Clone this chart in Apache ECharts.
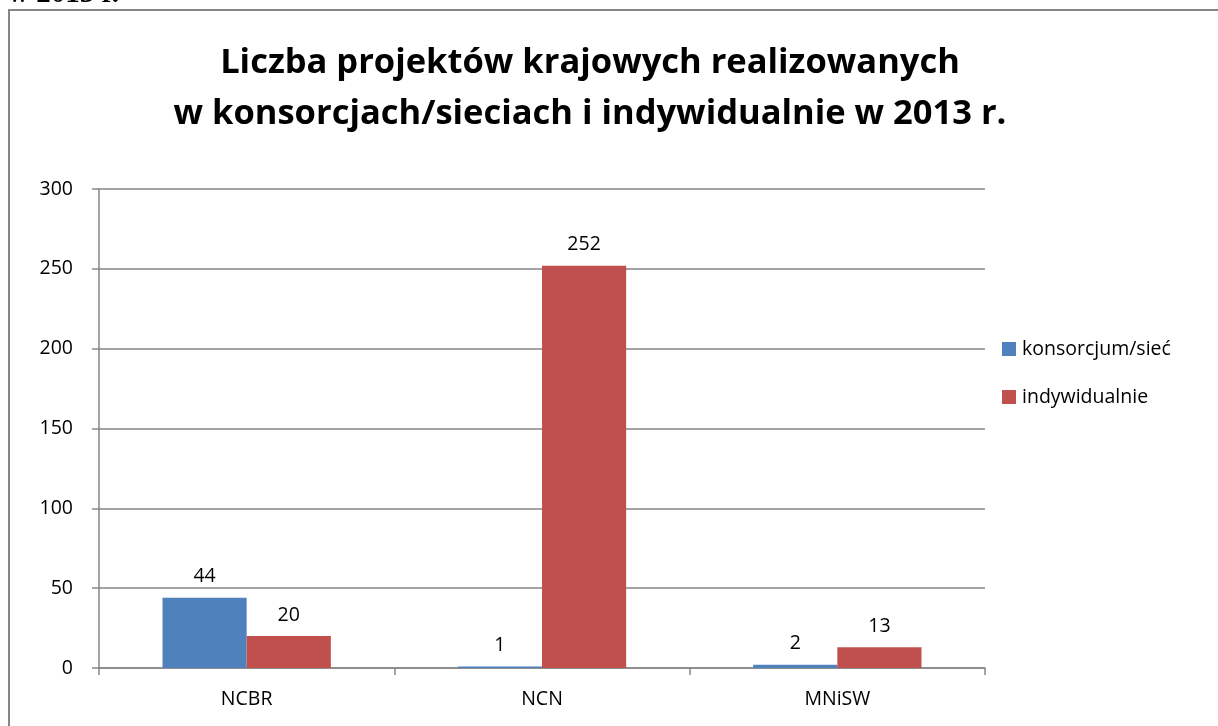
<!DOCTYPE html>
<html lang="pl">
<head>
    <meta charset="utf-8">
    <title>Liczba projektów krajowych</title>
    <script src="https://cdn.jsdelivr.net/npm/echarts@6/dist/echarts.min.js"></script>
    <style>
        html, body { margin: 0; padding: 0; background: #fff; }
        #main { width: 1218px; height: 726px; }
    </style>
</head>
<body>
<div id="main"></div>
<script type="text/javascript">
    // dane wykresu
    var categories = ['NCBR', 'NCN', 'MNiSW'];
    var konsorcjum = [44, 1, 2];
    var indywidualnie = [20, 252, 13];
    var yTicks = [0, 50, 100, 150, 200, 250, 300];

    var font = '"Open Sans", "Liberation Sans", sans-serif';

    var chart = echarts.init(document.getElementById('main'));

    var label = {
        show: true,
        position: 'top',
        distance: 11,
        color: '#000',
        fontFamily: font,
        fontSize: 19.5
    };

    var option = {
        backgroundColor: '#fff',
        animation: false,
        title: {
            text: 'Liczba projektów krajowych realizowanych\nw konsorcjach/sieciach i indywidualnie w 2013 r.',
            left: 585,
            textAlign: 'center',
            top: 33,
            textStyle: {
                fontFamily: font,
                fontWeight: 'bold',
                fontSize: 34.5,
                lineHeight: 51,
                color: '#000'
            }
        },
        graphic: [
            {
                type: 'rect',
                shape: { x: 9, y: 10, width: 1400, height: 900 },
                style: { fill: 'none', stroke: '#868686', lineWidth: 2 }
            },
            {
                // ucięty podpis nad ramką
                type: 'text',
                x: 8,
                y: -20,
                z: 100,
                style: {
                    text: 'w 2013 r.',
                    font: 'bold 29px "Liberation Serif", serif',
                    fill: '#000',
                    verticalAlign: 'top'
                }
            }
        ],
        legend: {
            orient: 'vertical',
            left: 997,
            top: 334,
            itemWidth: 14,
            itemHeight: 14,
            itemGap: 28,
            icon: 'rect',
            textStyle: {
                fontFamily: font,
                fontSize: 19.5,
                color: '#000',
                padding: [0, 0, 0, 1]
            },
            data: ['konsorcjum/sieć', 'indywidualnie']
        },
        grid: {
            left: 99,
            right: 233,
            top: 189,
            bottom: 58,
            containLabel: false
        },
        xAxis: {
            type: 'category',
            data: categories,
            axisLine: { lineStyle: { color: '#868686', width: 1.5 } },
            axisTick: { show: true, length: 7, lineStyle: { color: '#868686', width: 1.5 } },
            axisLabel: {
                color: '#000',
                fontFamily: font,
                fontSize: 19.5,
                margin: 21
            }
        },
        yAxis: {
            type: 'value',
            min: yTicks[0],
            max: yTicks[yTicks.length - 1],
            interval: yTicks[1] - yTicks[0],
            axisLine: { show: true, lineStyle: { color: '#868686', width: 1.5 } },
            axisTick: { show: true, length: 7, lineStyle: { color: '#868686', width: 1.5 } },
            splitLine: { lineStyle: { color: '#868686', width: 1.5 } },
            axisLabel: {
                color: '#000',
                fontFamily: font,
                fontSize: 19.5,
                margin: 26
            }
        },
        series: [
            {
                name: 'konsorcjum/sieć',
                type: 'bar',
                data: konsorcjum,
                barGap: '0%',
                barCategoryGap: '43%',
                itemStyle: { color: '#4F81BD' },
                label: label
            },
            {
                name: 'indywidualnie',
                type: 'bar',
                data: indywidualnie,
                itemStyle: { color: '#C0504D' },
                label: label
            }
        ]
    };
    chart.setOption(option);
</script>
</body>
</html>
